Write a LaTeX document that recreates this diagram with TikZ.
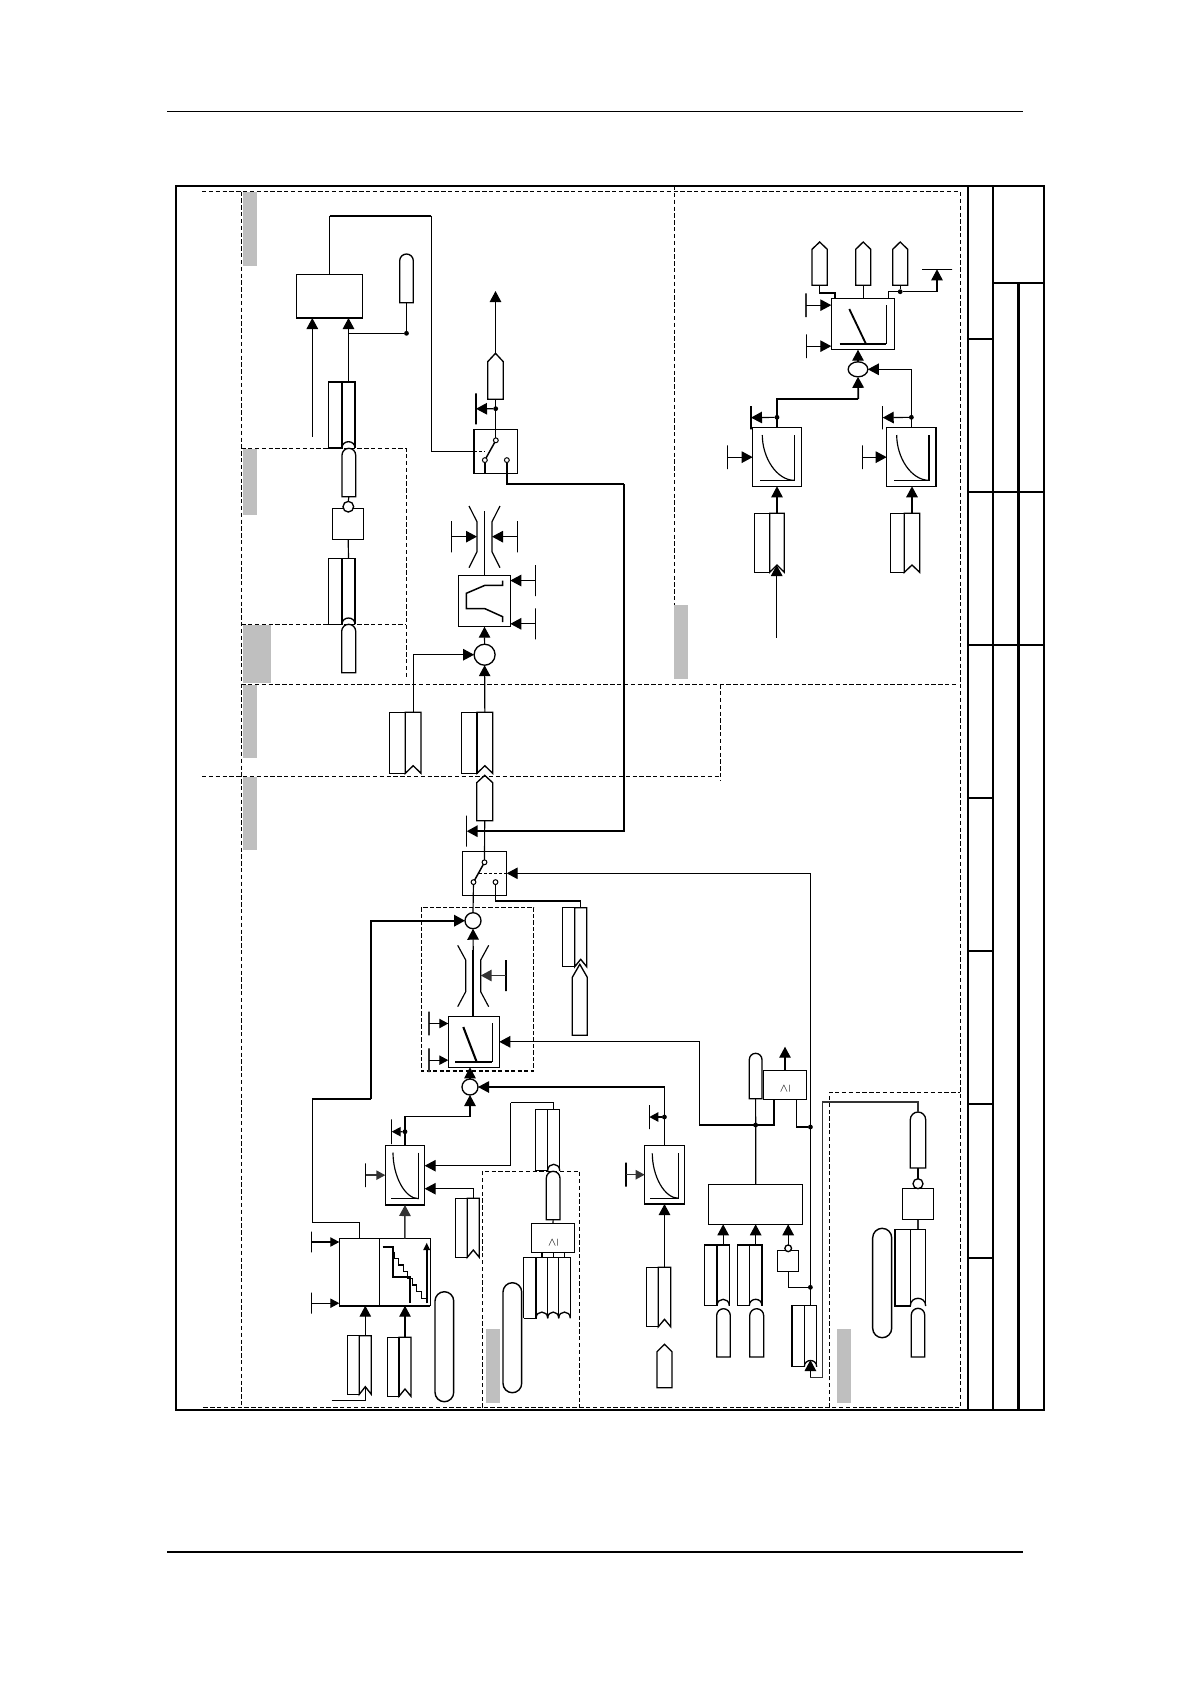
\documentclass[tikz,border=0pt]{standalone}
\usetikzlibrary{arrows.meta,shapes.geometric}
\tikzset{
  boxn/.style={draw,rectangle,inner sep=0pt,outer sep=0pt,line width=.75pt},
  ghost/.style={draw=none,fill=none},
  ln/.style={line width=.7pt},
  thk/.style={line width=1.15pt},
  mid/.style={line width=.85pt,draw=black!80},
  arr/.style={-{Triangle[length=6.6pt,width=6.9pt]}},
  sarr/.style={-{Triangle[length=5.4pt,width=5.6pt]}},
  dsh/.style={line width=.55pt,dash pattern=on 2.6pt off 1.5pt},
  graybar/.style={fill=black!25,draw=none},
  frm/.style={line width=1.5pt},
  frt/.style={line width=1.2pt},
  dotn/.style={circle,fill=black,draw=none,inner sep=0pt,minimum size=2.9pt,outer sep=0pt},
  ringn/.style={circle,draw,fill=white,inner sep=0pt,outer sep=0pt,line width=.8pt},
  contact/.style={circle,draw,fill=white,inner sep=0pt,outer sep=0pt,line width=.6pt,minimum size=2.9pt},
}
\newcommand\blk[6][]{%
  \pgfmathsetmacro\cx{(#3+#5)/2}\pgfmathsetmacro\cy{(#4+#6)/2}%
  \pgfmathsetmacro\nw{(#5-#3)*0.6}\pgfmathsetmacro\nh{(#6-#4)*0.6}%
  \node[boxn,minimum width=\nw pt,minimum height=\nh pt,#1] (#2) at (\cx,\cy) {};}
\newcommand\ctag[7]{% name x1 xm x2 y1 y2 ynotch
  \pgfmathsetmacro\mm{(#3+#4)/2}%
  \draw[ln] (#2,#5) rectangle (#3,#6);
  \draw[line width=.8pt] (#3,#6) -- (#3,#5) -- (#4,#5) -- (#4,#6) -- (\mm,#7) -- cycle;
  \blk[ghost]{#1}{#3}{#5}{#4}{#6}}
\newcommand\atag[7]{% name x1 xm x2 y1 y2 ynotch
  \pgfmathsetmacro\cc{#6-(#6-#7)/0.75}%
  \draw[ln] (#2,#5) rectangle (#3,#6);
  \draw[line width=.8pt] (#3,#6) -- (#3,#5) -- (#4,#5) -- (#4,#6);
  \draw[line width=.8pt] (#3,#6) .. controls (#3,\cc) and (#4,\cc) .. (#4,#6);
  \blk[ghost]{#1}{#3}{#5}{#4}{#6}}
\newcommand\pill[5]{% name x1 x2 y1 y2 : round top
  \pgfmathsetmacro\rr{(#3-#2)*0.3}%
  \draw[line width=.8pt] (#2,#5) [rounded corners=\rr pt] -- (#2,#4) -- (#3,#4) [sharp corners] -- (#3,#5) -- cycle;
  \blk[ghost]{#1}{#2}{#4}{#3}{#5}}
\newcommand\bigpill[5]{%
  \pgfmathsetmacro\rr{(#3-#2)*0.3}%
  \node[boxn,line width=.85pt,rounded corners=\rr pt,minimum width={(#3-#2)*0.6pt},minimum height={(#5-#4)*0.6pt}] (#1) at ({(#2+#3)/2},{(#4+#5)/2}) {};}
\newcommand\pent[6]{% name x1 x2 ytip yshoulder ybottom
  \pgfmathsetmacro\mm{(#2+#3)/2}%
  \draw[line width=.8pt] (#2,#6) -- (#2,#5) -- (\mm,#4) -- (#3,#5) -- (#3,#6) -- cycle;
  \blk[ghost]{#1}{#2}{#4}{#3}{#6}}
\newcommand\curv[5]{% xc yt xv yb xh
  \pgfmathsetmacro\ca{#4-(#4-#2)*0.5}\pgfmathsetmacro\cb{#3-(#3-#1)*0.55}%
  \draw[ln] (#3,#2) -- (#3,#4) -- (#5,#4);
  \draw[ln] (#1,#2) .. controls (#1,\ca) and (\cb,#4) .. (#3,#4);}
\newcommand\limiter[6]{% name xc ytop ys1 ys2 ybot
  \pgfmathsetmacro\la{#2-15.5}\pgfmathsetmacro\lb{#2-7.5}\pgfmathsetmacro\lc{#2+7.5}\pgfmathsetmacro\ld{#2+15.5}%
  \draw[ln] (\la,#3) -- (\lb,#4) -- (\lb,#5) -- (\la,#6);
  \draw[ln] (\ld,#3) -- (\lc,#4) -- (\lc,#5) -- (\ld,#6);
  \blk[ghost]{#1}{\lb}{#4}{\lc}{#5}}
\newcommand\switchbox[5]{% name x1 y1 x2 y2
  \pgfmathsetmacro\sty{#3+11}\pgfmathsetmacro\sby{#3+30.8}%
  \blk{#1}{#2}{#3}{#4}{#5}
  \pgfmathsetmacro\sm{(#2+#4)/2}\pgfmathsetmacro\slx{\sm-11}\pgfmathsetmacro\srx{\sm+11}%
  \node[contact] (#1t) at (\sm,\sty) {};
  \node[contact] (#1l) at (\slx,\sby) {};
  \node[contact] (#1r) at (\srx,\sby) {};
  \draw[line width=.9pt] (#1l) -- (#1t);}
\newcommand\aival[2]{\node[inner sep=0pt,rotate=90,font=\fontsize{6}{7}\selectfont] at (#1,#2) {$\geq$};}
\begin{document}
\begin{tikzpicture}[x=0.6pt,y=-0.6pt,line join=miter]
\useasboundingbox (0,0) rectangle (1190,1684);
\fill[white] (0,0) rectangle (1190,1684);
% page rules
\draw[line width=.65pt] (167,111.3) -- (1023,111.3);
\draw[line width=.65pt] (167,1552) -- (1023,1552);
% gray label bars
\fill[graybar] (243,192) rectangle (257,266);
\fill[graybar] (243,448.5) rectangle (257,514.7);
\fill[graybar] (243,624.5) rectangle (271,683);
\fill[graybar] (243,684.5) rectangle (257,757.7);
\fill[graybar] (243,776.5) rectangle (257,849.7);
\fill[graybar] (486,1329) rectangle (500,1402.7);
\fill[graybar] (837,1329) rectangle (851,1402.7);
\fill[graybar] (674,605) rectangle (688,679);
% dashed zones
\draw[dsh] (202,191.5) -- (960,191.5) -- (960,1407.7) -- (202,1407.7);
\draw[dsh] (241.3,191.5) -- (241.3,1407.7);
\draw[dsh] (674.3,186) -- (674.3,605);
\draw[dsh] (241.3,684.3) -- (958,684.3);
\draw[dsh] (720,684.3) -- (720,780);
\draw[dsh] (202,776.5) -- (720,776.5);
\draw[dsh] (241.3,448.3) -- (406.3,448.3) -- (406.3,678);
\draw[dsh] (241.3,624.3) -- (406.3,624.3);
\draw[dsh] (482.3,1407.7) -- (482.3,1171) -- (579.3,1171) -- (579.3,1407.7);
\draw[dsh] (829.3,1407.7) -- (829.3,1092.3) -- (960,1092.3);
\draw[line width=.7pt,dash pattern=on 2.6pt off 1.3pt] (421.3,907.3) rectangle (533.7,1071);
% title block
\draw[frm] (176,186) rectangle (1044,1410);
\draw[frm] (968,186) -- (968,1410);
\draw[frt] (993.3,186) -- (993.3,1410);
\draw[frm] (1018.5,283) -- (1018.5,1410);
\draw[frt] (993.3,283) -- (1044,283);
\draw[frt] (993.3,492) -- (1044,492);
\draw[frt] (993.3,644.5) -- (1044,644.5);
\foreach \yy in {338.5,492,644.5,798,951,1258}{\draw[frt] (968,\yy) -- (993.3,\yy);}
\draw[frm] (968,1104) -- (993.3,1104);
% --- top-left group
\blk[line width=.85pt]{bA}{296.7}{274.3}{362.7}{318}
\coordinate (fA) at (312.3,436.7);
\draw[ln,arr] (fA) -- (fA |- bA.south);
\atag{tA}{328.3}{342}{355}{382}{448}{441.7}
\draw[ln,arr] (tA.north) -- (tA.north |- bA.south);
\pill{pA}{399.7}{413.3}{254}{302.7}
\node[dotn] (dA) at (406.5,333.3) {};
\draw[ln] (pA.south) -- (dA);
\draw[ln] (dA) -- (dA -| tA.north);
\pill{pB}{342}{355.7}{448.3}{496.7}
\blk[line width=.9pt]{sB}{332.7}{508.7}{363.7}{539.3}
\node[ringn,minimum size=6.4pt] (cB) at (348.3,506.7) {};
\draw[ln] (pB.south) -- (cB.north);
\atag{tB}{328.3}{342}{355}{558.3}{624.3}{618}
\draw[ln] (sB.south) -- (tB.north);
\pill{pC}{341.7}{355.7}{624.3}{672.7}
% switch A
\switchbox{swA}{474}{429.3}{517.7}{473.7}
\draw[ln,dash pattern=on 2pt off 1pt] (swA.west) -- (485,451.5);
\draw[ln] (bA.north) -- (329.7,215.7);
\draw[thk] (329.7,215.7) -- (431.3,215.7);
\draw[ln] (431.3,215.7) |- (swA.west);
\draw[thk] (swAl) -- (swAl |- swA.south);
\pent{pD}{487.7}{503.3}{353.3}{361.7}{399.3}
\draw[ln] (swAt) -- (swAt |- pD.south);
\node[dotn] (dD) at (495.7,408.7) {};
\blk{barD}{476}{393.3}{476}{424.3}
\draw[ln,arr] (dD) -- (barD);
\coordinate (fD) at (495.5,291);
\draw[ln,arr] (pD.north) -- (fD);
% limiter + block C
\limiter{lA}{484.5}{506}{521.7}{551.7}{567.7}
\blk{bC}{458.7}{575.3}{510.3}{626.7}
\coordinate (lAt) at (484.5,511);
\draw[ln] (lAt) -- (bC.north);
\blk{barA1}{451.3}{521}{451.3}{552.3}
\blk{barA2}{517.7}{521}{517.7}{552.3}
\draw[ln,arr] (barA1) -- (barA1 -| lA.west);
\draw[ln,arr] (barA2) -- (barA2 -| lA.east);
\draw[line width=.9pt] (502.7,580.7) -- (502.7,585.3) -- (485,585.3) -- (466.3,593.3) -- (466.3,608.7) -- (485,608.7) -- (502.7,616.7) -- (502.7,622);
\blk{barC1}{535.3}{565}{535.3}{596}
\blk{barC2}{535.3}{608.3}{535.3}{639.3}
\draw[ln,arr] (barC1) -- (barC1 -| bC.east);
\draw[ln,arr] (barC2) -- (barC2 -| bC.east);
\node[ringn,minimum size=12.6pt] (cC) at (484.6,654.7) {};
\draw[ln,arr] (cC.north) -- (bC.south);
\ctag{tC1}{389.7}{405.3}{421}{712.3}{773.3}{765.7}
\ctag{tC2}{461.3}{477}{492.7}{712.3}{773.3}{765.7}
\draw[ln,arr] (tC1.north) |- (cC.west);
\draw[ln,arr] (tC2.north) -- (cC.south);
% switch A output to bar K
\blk{barK}{466.7}{815.7}{466.7}{846.7}
\draw[thk] (swAr) -- (swAr |- 0,484.3) -- (624.3,484.3);
\draw[thk,arr] (624.3,484.3) |- (barK);
% switch B
\pent{pE}{476.7}{492.7}{775.3}{782.7}{820.7}
\switchbox{swB}{462.3}{851.3}{506.7}{895.3}
\draw[ln] (pE.south) -- (swBt);
\draw[ln,dash pattern=on 2pt off 1pt] (479,873.3) -- (swB.east);
\node[ringn,minimum size=9.6pt] (cF) at (473,920.7) {};
\draw[ln] (swBl) -- (cF.north);
\ctag{tF}{562.7}{574.7}{586.7}{907.7}{966.7}{959.3}
\pent{pF}{572.3}{587.3}{964.3}{977.3}{1035.3}
\draw[ln] (swBr) |- (580.7,901) -- (tF.north);
% limiter B + block H
\limiter{lB}{473.2}{945.3}{960}{991.7}{1006.7}
\blk{bH}{448.3}{1016.3}{499.3}{1067.3}
\coordinate (lBt) at (473.2,950);
\draw[line width=1.25pt] (lBt) -- (lBt |- bH.north);
\draw[ln,arr] (lBt) -- (cF.south);
\blk{barB}{506}{960}{506}{991}
\draw[mid,arr] (barB) -- (barB -| lB.east);
\draw[line width=.9pt] (492.3,1023.3) -- (492.3,1062);
\draw[line width=1.25pt] (455.3,1062) -- (492.3,1062);
\draw[line width=1.25pt] (463.3,1027) -- (476.7,1062);
\blk[draw=black!80,line width=.9pt]{barH1}{429}{1011.7}{429}{1035.3}
\blk[draw=black!80,line width=.9pt]{barH2}{429}{1048.3}{429}{1072}
\draw[ln,sarr] (barH1) -- (barH1 -| bH.west);
\draw[ln,sarr] (barH2) -- (barH2 -| bH.west);
\node[ringn,minimum size=9.6pt] (cG) at (470,1087) {};
\draw[ln,arr] (cG.north) -- (cG.north |- bH.south);
% block G (stairs)
\blk{bG1}{339.3}{1238.7}{379.3}{1305.7}
\blk{bG2}{379.3}{1238.7}{430.3}{1305.7}
\draw[line width=1.2pt] (bG1.south west) -- (bG2.south east);
\draw[line width=1.15pt] (382.7,1246.7) -- (393,1246.7) -- (393,1276.7) -- (409.7,1276.7) -- (409.7,1303.3);
\draw[line width=.7pt] (394,1251.7) \foreach \i in {1,...,7} { -- ++(0,6.66) -- ++(4.57,0)};
\draw[line width=1pt,-{Triangle[length=4.5pt,width=4pt]}] (426.7,1303.3) -- (426.7,1242.7);
\blk{barG1}{311.7}{1231.7}{311.7}{1252.3}
\blk{barG2}{311.7}{1292.7}{311.7}{1313.7}
\draw[ln,sarr] (barG1) -- (barG1 -| bG1.west);
\draw[ln,sarr] (barG2) -- (barG2 -| bG1.west);
\draw[ln] (bG1.north) |- (312.3,1222.3) -- (312.3,1099);
\draw[thk] (312.3,1099) -- (371,1099);
\draw[thk,arr] (371,1099) |- (cF.west);
% block L
\blk{bL}{385.3}{1145.3}{424.7}{1205}
\curv{393}{1152.5}{418.7}{1198.7}{390.7}
\draw[mid,arr] (bG2.north) -- (bL.south);
\node[dotn] (dL) at (405,1131.7) {};
\blk{barL}{391.7}{1119.3}{391.7}{1144}
\draw[ln,sarr] (dL) -- (barL);
\draw[ln] (bL.north) |- (470,1116.7);
\draw[ln,arr] (470,1116.7) -- (cG.south);
\blk{barL2}{365.7}{1163.3}{365.7}{1187}
\draw[mid,sarr] (barL2) -- (barL2 -| bL.west);
\atag{tM}{535.7}{547.7}{559.7}{1109.3}{1170.7}{1164.3}
\draw[ln] (tM.north) |- (510.7,1102.7);
\draw[ln,arr] (510.7,1102.7) |- (bL.east |- 510.7,1165.7);
\ctag{tN}{455.7}{467.3}{479.3}{1198.3}{1257.3}{1250}
\draw[ln,arr] (tN.north) |- (bL.east |- 473,1188.7);
\pill{pM}{546.3}{560}{1171.3}{1219.7}
\blk{bAIa}{531.3}{1223.3}{574.7}{1252.3}
\aival{553.3}{1242.3}
\draw[ln] (pM.south) -- (bAIa.north);
% four-part tag
\draw[line width=.85pt] (523.7,1318.3) -- (523.7,1257.3) -- (570.3,1257.3) -- (570.3,1318.3);
\draw[line width=.85pt] (523.7,1318.3) -- (536,1318.3) -- (536,1257.3);
\draw[line width=.85pt] (547.7,1257.3) -- (547.7,1318.3);
\draw[line width=.85pt] (558.7,1257.3) -- (558.7,1318.3);
\foreach \aa/\bb in {536/547.7,547.7/558.7,558.7/570.3}{\draw[line width=.8pt] (\aa,1318.3) .. controls (\aa,1310) and (\bb,1310) .. (\bb,1318.3);}
\coordinate (q1) at (542,1257.3);
\coordinate (q2) at (553.3,1257.3);
\coordinate (q3) at (564.3,1257.3);
\draw[ln] (q1) -- (q1 |- bAIa.south);
\draw[ln] (q2) -- (q2 |- bAIa.south);
\draw[ln] (q3) -- (q3 |- bAIa.south);
% big pills
\bigpill{pbA}{503}{521.7}{1282.7}{1392.7}
\bigpill{pbB}{435}{453.7}{1291.7}{1401.7}
\bigpill{pbC}{872.7}{891.7}{1228.3}{1337.7}
% bottom tags
\ctag{tT1}{347.3}{359.3}{371.3}{1335.7}{1394.3}{1386.7}
\ctag{tT2}{387.3}{399}{411}{1337.3}{1396.3}{1389}
\draw[ln,arr] (tT1.north) -- (tT1.north |- bG1.south);
\draw[ln,arr] (tT2.north) -- (tT2.north |- bG2.south);
\coordinate (fT) at (331.7,1400.3);
\draw[ln] (fT) -- (365.3,1400.3) -- (365.3,1388);
% block K
\blk{bK}{644.7}{1145.3}{684.3}{1204}
\curv{652.3}{1153.3}{678.7}{1198.3}{650}
\draw[ln,arr] (bK.north) |- (cG.east);
\node[dotn] (dK) at (664.4,1117) {};
\blk[line width=.9pt]{barK1}{649.3}{1105}{649.3}{1129}
\draw[line width=.9pt,sarr] (dK) -- (barK1);
\blk[line width=.9pt]{barK2}{626}{1162.7}{626}{1186.7}
\draw[mid,sarr] (barK2) -- (barK2 -| bK.west);
\ctag{tK}{646.3}{658.3}{670.7}{1267.3}{1326.7}{1319.3}
\draw[ln,arr] (tK.north) -- (tK.north |- bK.south);
\pent{pK}{657}{672}{1344.3}{1351.7}{1387.7}
% big block W and AI
\blk{bW}{708.7}{1184.3}{802.7}{1224.3}
\pill{pS}{749.3}{762}{1053.3}{1098.7}
\node[dotn] (dJ) at (755.6,1125) {};
\draw[ln] (bW.north) -- (pS.south);
\blk[line width=.9pt]{bAIb}{763.3}{1070.7}{806.7}{1099.3}
\aival{785}{1089}
\coordinate (fV) at (785,1046.7);
\draw[ln,arr] (bAIb.north) -- (fV);
\draw[thk] (699.3,1125) -- (773.7,1125) -- (773.7,1099.3);
\draw[ln,arr] (699.3,1125) |- (bH.east);
\atag{tW1}{704.7}{717}{729.3}{1245}{1305.7}{1299.3}
\atag{tW2}{737.3}{749.3}{762}{1245}{1305.7}{1299.3}
\pill{pW1}{716.7}{730.3}{1308.7}{1357}
\pill{pW2}{749.7}{763.7}{1308.7}{1357}
\draw[ln,arr] (tW1.north) -- (tW1.north |- bW.south);
\draw[ln,arr] (tW2.north) -- (tW2.north |- bW.south);
\blk[line width=.9pt]{sW}{777.7}{1250.7}{798.7}{1271.3}
\node[ringn,minimum size=4pt] (cW) at (788.2,1248.3) {};
\draw[ln,arr] (cW.north) -- (cW.north |- bW.south);
% feedback line
\atag{tQ}{792}{804.3}{816.7}{1305.7}{1366.7}{1360.5}
\draw[ln,arr] (tQ.north) |- (swB.east);
\node[dotn] (dQ1) at (810.4,1127) {};
\node[dotn] (dQ2) at (810.4,1287.3) {};
\draw[ln] (796.3,1099.3) |- (dQ1);
\draw[ln] (sW.south) |- (dQ2);
% lower-right stack
\pill{pR}{910.3}{925.7}{1112}{1168}
\blk{sR}{902.3}{1188.3}{933.7}{1219.7}
\node[ringn,minimum size=6pt] (cR) at (918,1183.7) {};
\draw[line width=1pt] (pR.south) -- (cR.north);
\atag{tR}{895}{910.3}{925.7}{1229.3}{1306}{1298.3}
\draw[mid] (sR.south) -- (tR.north);
\draw[line width=1.1pt] (895,1306) -- (910.3,1306);
\pill{pR2}{911.3}{924.7}{1308.3}{1357}
\draw[mid] (pR.north) |- (822.3,1102) -- (822.3,1377.3) -- (810.4,1377.3);
\coordinate (fQ) at (810.4,1377.3);
\draw[ln,arr] (fQ) -- (810.4,1360);
% --- top-right group
\blk{bU}{831.3}{298.3}{894.7}{349.7}
\draw[line width=.9pt] (886.3,305) -- (886.3,344);
\draw[line width=.9pt] (839.7,344) -- (886.3,344);
\draw[line width=1.1pt] (849.3,309) -- (866,344);
\blk[draw=black!80,line width=.9pt]{barU1}{806}{293.3}{806}{317}
\blk[line width=.9pt]{barU2}{806.7}{334.3}{806.7}{358}
\draw[ln,arr] (barU1) -- (barU1 -| bU.west);
\draw[ln,arr] (barU2) -- (barU2 -| bU.west);
\pent{pU1}{812}{827.3}{242}{249.3}{285.3}
\pent{pU2}{855.7}{870.7}{242}{249.3}{285.3}
\pent{pU3}{892.7}{907.7}{242}{249.3}{285.3}
\draw[ln] (pU1.south) |- (835,293) -- (835,298.3);
\draw[ln] (pU2.south) -- (pU2.south |- bU.north);
\node[dotn] (dU) at (900.2,291.7) {};
\draw[ln] (pU3.south) -- (dU);
\blk{barU3}{922}{269.3}{952}{269.3}
\draw[ln] (888.3,298.3) |- (dU);
\draw[ln,arr] (dU) -| (barU3);
\node[ringn,ellipse,minimum width=11.8pt,minimum height=9pt,fill=white] (cU) at (858,369.3) {};
\draw[ln,arr] (cU.north) -- (cU.north |- bU.south);
% curve blocks
\blk[line width=.85pt]{bV1}{752.7}{427.7}{801.3}{486.3}
\curv{762.3}{435}{794.3}{480.3}{760}
\blk[line width=.85pt]{bV2}{886.7}{427.7}{936}{486.3}
\curv{896.7}{435}{929}{480.3}{894.3}
\node[dotn] (dV1) at (777,417.3) {};
\node[dotn] (dV2) at (911.4,417.3) {};
\blk[line width=.9pt]{barV1}{751}{406}{751}{429.3}
\blk[line width=.9pt]{barV2}{882.7}{406}{882.7}{429.3}
\draw[ln,arr] (dV1) -- (barV1);
\draw[ln,arr] (dV2) -- (barV2);
\draw[line width=1.4pt] (bV1.north) |- (858.3,399);
\draw[line width=1pt,arr] (858.3,399) -- (cU.south);
\draw[ln,arr] (bV2.north) |- (cU.east);
\blk[line width=.9pt]{barV3}{727.7}{445.3}{727.7}{469}
\blk[line width=.9pt]{barV4}{862.7}{445.3}{862.7}{469}
\draw[ln,arr] (barV3) -- (barV3 -| bV1.west);
\draw[ln,arr] (barV4) -- (barV4 -| bV2.west);
\ctag{tV1}{754.3}{769.7}{784.3}{513.3}{572.3}{565}
\ctag{tV2}{890.3}{904.3}{919.7}{513.3}{572.3}{565}
\draw[ln,arr] (tV1.north) -- (tV1.north |- bV1.south);
\draw[line width=.9pt,arr] (tV2.north) -- (tV2.north |- bV2.south);
\coordinate (fN) at (776.7,637.7);
\draw[ln,arr] (fN) -- (776.7,565);
\end{tikzpicture}
\end{document}
